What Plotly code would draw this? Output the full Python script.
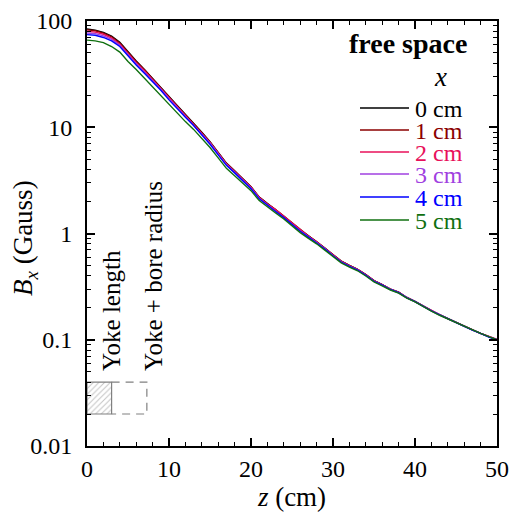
import plotly.graph_objects as go

# ---------------- data ----------------
z_cm = list(range(0, 51))

bx_0cm = [84, 82, 78, 72, 63, 51, 42, 35, 29, 24,
          19.5, 16, 13.2, 11, 9.0, 7.3, 5.8, 4.6, 3.9, 3.3,
          2.75, 2.2, 1.9, 1.67, 1.45, 1.25, 1.08, 0.95, 0.84, 0.73,
          0.63, 0.55, 0.50, 0.46, 0.41, 0.36, 0.33, 0.30, 0.28, 0.25,
          0.23, 0.207, 0.188, 0.172, 0.158, 0.145, 0.134, 0.124, 0.115, 0.107, 0.100]
bx_1cm = [82.5, 81, 77, 71, 62, 50.5, 41.5, 34.8, 28.7, 23.8,
          19.3, 15.8, 13.1, 10.9, 8.9, 7.25, 5.75, 4.57, 3.88, 3.28,
          2.74, 2.2, 1.9, 1.68, 1.46, 1.25, 1.08, 0.95, 0.84, 0.73,
          0.63, 0.55, 0.50, 0.46, 0.41, 0.36, 0.33, 0.30, 0.28, 0.25,
          0.23, 0.208, 0.188, 0.171, 0.158, 0.146, 0.134, 0.123, 0.115, 0.107, 0.100]
bx_2cm = [80, 78.5, 75, 69, 60.5, 49, 40.5, 34, 28, 23.3,
          19, 15.6, 12.9, 10.8, 8.8, 7.2, 5.7, 4.52, 3.84, 3.26,
          2.72, 2.18, 1.89, 1.68, 1.45, 1.24, 1.07, 0.94, 0.83, 0.725,
          0.625, 0.547, 0.497, 0.457, 0.408, 0.358, 0.329, 0.299, 0.279, 0.249,
          0.229, 0.207, 0.187, 0.172, 0.158, 0.145, 0.135, 0.124, 0.115, 0.107, 0.101]
bx_3cm = [77, 76, 72.5, 67, 59, 48, 39.5, 33, 27.5, 22.8,
          18.6, 15.3, 12.7, 10.6, 8.67, 7.06, 5.6, 4.45, 3.78, 3.21,
          2.68, 2.15, 1.86, 1.64, 1.42, 1.23, 1.06, 0.935, 0.827, 0.72,
          0.62, 0.542, 0.494, 0.455, 0.405, 0.356, 0.327, 0.298, 0.278, 0.249,
          0.229, 0.206, 0.187, 0.171, 0.157, 0.145, 0.134, 0.124, 0.114, 0.107, 0.100]
bx_4cm = [74.5, 73.5, 70, 65, 57.5, 46.5, 38.5, 32.2, 26.8, 22.3,
          18.1, 14.9, 12.4, 10.4, 8.5, 6.92, 5.5, 4.38, 3.72, 3.16,
          2.64, 2.12, 1.83, 1.61, 1.41, 1.21, 1.05, 0.925, 0.82, 0.713,
          0.617, 0.539, 0.491, 0.452, 0.403, 0.355, 0.326, 0.297, 0.277, 0.248,
          0.228, 0.205, 0.187, 0.171, 0.157, 0.144, 0.134, 0.123, 0.115, 0.106, 0.100]
bx_5cm = [66, 65, 62.5, 57.5, 51, 41.5, 35, 29, 24, 20,
          16.2, 13.5, 11.3, 9.55, 7.9, 6.45, 5.15, 4.1, 3.5, 3.0,
          2.53, 2.04, 1.77, 1.56, 1.37, 1.18, 1.02, 0.9, 0.8, 0.697,
          0.605, 0.53, 0.483, 0.446, 0.398, 0.351, 0.322, 0.294, 0.275, 0.246,
          0.227, 0.204, 0.186, 0.170, 0.157, 0.144, 0.133, 0.123, 0.115, 0.107, 0.100]

series_names = ["0 cm", "1 cm", "2 cm", "3 cm", "4 cm", "5 cm"]
series_values = [bx_0cm, bx_1cm, bx_2cm, bx_3cm, bx_4cm, bx_5cm]
series_colors = ["#000000", "#8B0000", "#E8105A", "#A040E0", "#0000FF", "#107010"]

# geometry markers (cm, Gauss)
yoke_z = [0, 3]
bore_z = [0, 7.3]
box_B = [0.02, 0.04]

x_ticks = [0, 10, 20, 30, 40, 50]
y_tickvals = [0.01, 0.1, 1, 10, 100]
y_ticktext = ["0.01", "0.1", "1", "10", "100"]

FONT = "Liberation Serif"

fig = go.Figure()

# yoke length (hatched box)
fig.add_trace(go.Scatter(
    x=[yoke_z[0], yoke_z[1], yoke_z[1], yoke_z[0], yoke_z[0]],
    y=[box_B[0], box_B[0], box_B[1], box_B[1], box_B[0]],
    mode="lines", fill="toself",
    line=dict(color="#808080", width=1.2),
    fillcolor="white",
    fillpattern=dict(shape="/", size=4, solidity=0.25, fgcolor="#888888", bgcolor="white"),
    showlegend=False, hoverinfo="skip"))

# yoke + bore radius (dashed box)
fig.add_trace(go.Scatter(
    x=[yoke_z[1], bore_z[1], bore_z[1], yoke_z[1]],
    y=[box_B[1], box_B[1], box_B[0], box_B[0]],
    mode="lines",
    line=dict(color="#808080", width=1.2, dash="8px,6px"),
    showlegend=False, hoverinfo="skip"))

for name, vals, col in zip(series_names, series_values, series_colors):
    fig.add_trace(go.Scatter(x=z_cm, y=vals, mode="lines", name=name,
                             line=dict(color=col, width=1.4), showlegend=False))

# manual legend (paper coordinates)
def px2x(px):
    return (px - 87) / 410.0

def py2y(py):
    return (446 - py) / 425.0

annotations = [
    dict(x=px2x(408), y=py2y(43), xref="paper", yref="paper", text="<b>free space</b>",
         showarrow=False, xanchor="center", yanchor="middle",
         font=dict(family=FONT, size=28, color="black")),
    dict(x=px2x(440), y=py2y(77), xref="paper", yref="paper", text="<i>x</i>",
         showarrow=False, xanchor="center", yanchor="middle",
         font=dict(family=FONT, size=27, color="black")),
    # y-axis title
    dict(x=px2x(25), y=py2y(238), xref="paper", yref="paper",
         text="<i>B<sub>x</sub></i> (Gauss)", textangle=-90,
         showarrow=False, xanchor="center", yanchor="middle",
         font=dict(family=FONT, size=27, color="black")),
]
shapes = []
legend_rows = [108, 130, 152, 174, 197, 220]
for name, col, row in zip(series_names, series_colors, legend_rows):
    shapes.append(dict(type="line", xref="paper", yref="paper",
                       x0=px2x(360), x1=px2x(409), y0=py2y(row), y1=py2y(row),
                       line=dict(color=col, width=1.4)))
    annotations.append(dict(x=px2x(413), y=py2y(row + 1), xref="paper", yref="paper",
                            text=name, showarrow=False, xanchor="left", yanchor="middle",
                            font=dict(family=FONT, size=24, color=col)))

# box labels (rotated)
annotations.append(dict(x=2.9, y=-1.31, xref="x", yref="y", text="Yoke length",
                        textangle=-90, showarrow=False, xanchor="center", yanchor="bottom",
                        font=dict(family=FONT, size=25, color="black")))
annotations.append(dict(x=8.1, y=-1.31, xref="x", yref="y", text="Yoke + bore radius",
                        textangle=-90, showarrow=False, xanchor="center", yanchor="bottom",
                        font=dict(family=FONT, size=25, color="black")))

fig.update_layout(
    width=515, height=512,
    margin=dict(l=87, r=18, t=21, b=66),
    paper_bgcolor="white", plot_bgcolor="white",
    font=dict(family=FONT, size=24, color="black"),
    showlegend=False,
    annotations=annotations,
    shapes=shapes,
)

fig.update_xaxes(
    range=[0, 50], tickvals=x_ticks, ticktext=[str(v) for v in x_ticks],
    ticks="inside", ticklen=8, tickwidth=1.5, tickcolor="black",
    showline=True, linewidth=2, linecolor="black", mirror="ticks",
    showgrid=False, zeroline=False,
    minor=dict(dtick=2, ticks="inside", ticklen=4, tickwidth=1.2, tickcolor="black", showgrid=False),
    tickfont=dict(family=FONT, size=24),
    title=dict(text="<i>z</i> (cm)", font=dict(family=FONT, size=27), standoff=2),
    automargin=False,
)
fig.update_yaxes(
    type="log", range=[-2, 2], tickvals=y_tickvals, ticktext=y_ticktext,
    ticks="inside", ticklen=8, tickwidth=1.5, tickcolor="black",
    showline=True, linewidth=2, linecolor="black", mirror="ticks",
    showgrid=False, zeroline=False,
    minor=dict(dtick="D1", ticks="inside", ticklen=4, tickwidth=1.2, tickcolor="black", showgrid=False),
    tickfont=dict(family=FONT, size=24),
    ticklabelstandoff=8,
    automargin=False,
)

fig.write_html("out.html")
